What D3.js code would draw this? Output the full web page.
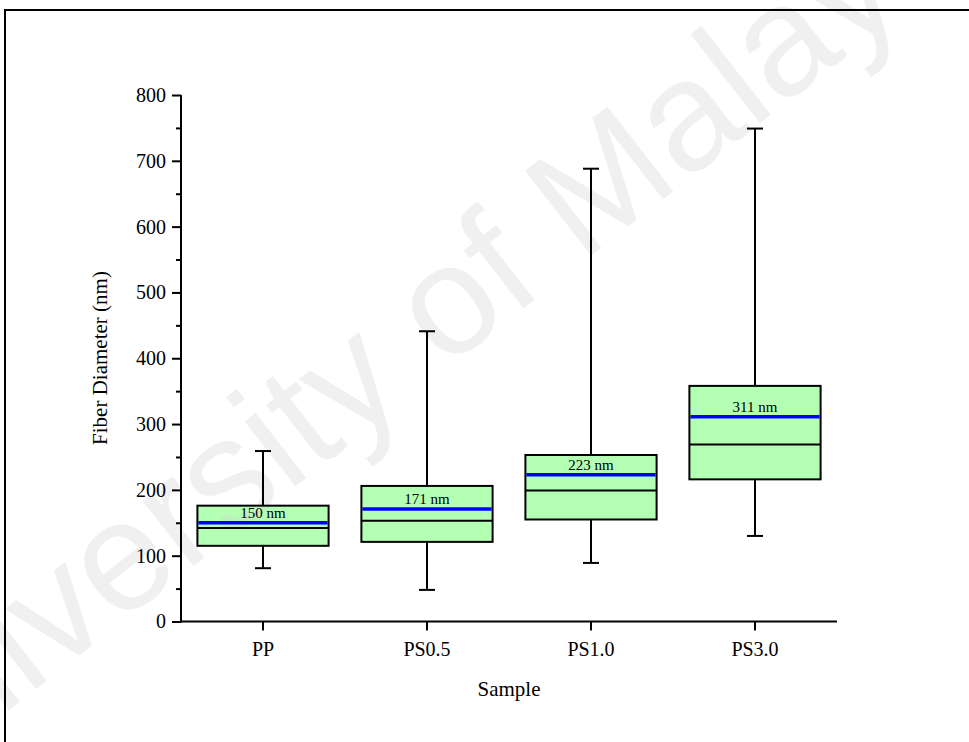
<!DOCTYPE html>
<html>
<head>
<meta charset="utf-8">
<script src="https://cdn.jsdelivr.net/npm/d3@7"></script>
<style>
  html, body { margin: 0; padding: 0; background: #ffffff; }
  svg { display: block; }
</style>
</head>
<body>
<svg id="chart" width="969" height="742"></svg>
<script>
// ---- data ----
const categories = ["PP", "PS0.5", "PS1.0", "PS3.0"];
const whiskerLow  = [81, 48, 89, 130];
const q1          = [115, 121, 155, 216];
const median      = [142, 153, 199, 269];
const q3          = [176, 206, 253, 358];
const whiskerHigh = [259, 441, 688, 749];
const mean        = [150, 171, 223, 311];
const meanLabels  = ["150 nm", "171 nm", "223 nm", "311 nm"];
const yMajorTicks = [0, 100, 200, 300, 400, 500, 600, 700, 800];
const yMinorTicks = [50, 150, 250, 350, 450, 550, 650, 750];
const xTitle = "Sample";
const yTitle = "Fiber Diameter (nm)";
const watermark = "University of Malaya";

// ---- layout ----
const serif = "Liberation Serif";
const svg = d3.select("#chart");
const x = d3.scaleBand().domain(categories).range([181, 837]).paddingInner(0).paddingOuter(0);
const y = d3.scaleLinear().domain([0, 800]).range([621.5, 95]);
const boxW = x.bandwidth() * 0.8;
const capW = 16;
const cx = c => x(c) + x.bandwidth() / 2;

svg.append("rect").attr("width", 969).attr("height", 742).attr("fill", "#ffffff");

const rows = categories.map((c, i) => ({
  c, lo: whiskerLow[i], q1: q1[i], med: median[i], q3: q3[i], hi: whiskerHigh[i], mean: mean[i], label: meanLabels[i]
}));

// box fills
svg.append("g").selectAll("rect").data(rows).join("rect")
  .attr("x", d => cx(d.c) - boxW / 2)
  .attr("y", d => y(d.q3))
  .attr("width", boxW)
  .attr("height", d => y(d.q1) - y(d.q3))
  .attr("fill", "#b3ffb3");

// watermark
svg.append("text")
  .attr("transform", "translate(424,386) rotate(-38)")
  .attr("text-anchor", "middle")
  .attr("font-family", "Liberation Sans")
  .attr("font-size", 156)
  .attr("fill", "#d0d0d0")
  .attr("fill-opacity", 0.32)
  .text(watermark);

// whiskers
const g = svg.append("g").attr("stroke", "#000").attr("fill", "none");
g.selectAll("line.wu").data(rows).join("line")
  .attr("x1", d => cx(d.c)).attr("x2", d => cx(d.c))
  .attr("y1", d => y(d.q3)).attr("y2", d => y(d.hi)).attr("stroke-width", 2);
g.selectAll("line.wl").data(rows).join("line")
  .attr("x1", d => cx(d.c)).attr("x2", d => cx(d.c))
  .attr("y1", d => y(d.q1)).attr("y2", d => y(d.lo)).attr("stroke-width", 2);
g.selectAll("line.cu").data(rows).join("line")
  .attr("x1", d => cx(d.c) - capW / 2).attr("x2", d => cx(d.c) + capW / 2)
  .attr("y1", d => y(d.hi)).attr("y2", d => y(d.hi)).attr("stroke-width", 2);
g.selectAll("line.cl").data(rows).join("line")
  .attr("x1", d => cx(d.c) - capW / 2).attr("x2", d => cx(d.c) + capW / 2)
  .attr("y1", d => y(d.lo)).attr("y2", d => y(d.lo)).attr("stroke-width", 2);

// box outlines
g.selectAll("rect").data(rows).join("rect")
  .attr("x", d => cx(d.c) - boxW / 2)
  .attr("y", d => y(d.q3))
  .attr("width", boxW)
  .attr("height", d => y(d.q1) - y(d.q3))
  .attr("stroke-width", 2);

// median
g.selectAll("line.med").data(rows).join("line")
  .attr("x1", d => cx(d.c) - boxW / 2).attr("x2", d => cx(d.c) + boxW / 2)
  .attr("y1", d => y(d.med)).attr("y2", d => y(d.med)).attr("stroke-width", 2);

// mean (blue)
svg.append("g").selectAll("line").data(rows).join("line")
  .attr("x1", d => cx(d.c) - boxW / 2 + 1).attr("x2", d => cx(d.c) + boxW / 2 - 1)
  .attr("y1", d => y(d.mean)).attr("y2", d => y(d.mean))
  .attr("stroke", "#0000ff").attr("stroke-width", 3.5);

// mean labels
svg.append("g").selectAll("text").data(rows).join("text")
  .attr("x", d => cx(d.c))
  .attr("y", d => y(d.mean) - 5)
  .attr("text-anchor", "middle")
  .attr("font-family", serif)
  .attr("font-size", 15)
  .attr("fill", "#000")
  .text(d => d.label);

// axes
const yAxis = svg.append("g").attr("transform", "translate(181,0)")
  .call(d3.axisLeft(y).tickValues(yMajorTicks).tickSize(9).tickSizeOuter(0).tickPadding(6).tickFormat(d3.format("d")));
const yMinor = svg.append("g").attr("transform", "translate(181,0)")
  .call(d3.axisLeft(y).tickValues(yMinorTicks).tickSize(5).tickSizeOuter(0).tickFormat(""));
yMinor.select(".domain").remove();
const xAxis = svg.append("g").attr("transform", "translate(0,621.5)")
  .call(d3.axisBottom(x).tickSize(9).tickSizeOuter(0).tickPadding(11));

[yAxis, yMinor, xAxis].forEach(a => {
  a.attr("font-family", serif).attr("font-size", 20);
  a.selectAll("path, line").attr("stroke", "#000").attr("stroke-width", 2);
  a.selectAll("text").attr("font-family", serif).attr("font-size", 20).attr("fill", "#000");
});
xAxis.select(".domain").attr("d", "M180,0H837");
yAxis.select(".domain").attr("d", "M0,622.5V95");

// titles
svg.append("text")
  .attr("x", 509).attr("y", 696)
  .attr("text-anchor", "middle")
  .attr("font-family", serif).attr("font-size", 21)
  .text(xTitle);
svg.append("text")
  .attr("transform", "translate(107,358) rotate(-90)")
  .attr("text-anchor", "middle")
  .attr("font-family", serif).attr("font-size", 21)
  .text(yTitle);

// outer frame
svg.append("rect")
  .attr("x", 5).attr("y", 10).attr("width", 990).attr("height", 760)
  .attr("fill", "none").attr("stroke", "#000").attr("stroke-width", 2);
</script>
</body>
</html>
